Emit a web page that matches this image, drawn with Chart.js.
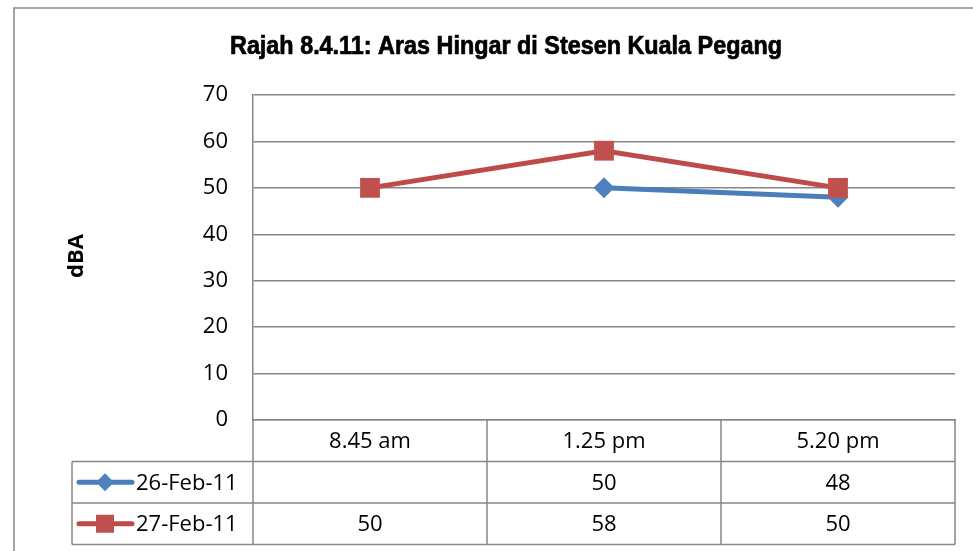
<!DOCTYPE html>
<html>
<head>
<meta charset="utf-8">
<script src="https://cdn.jsdelivr.net/npm/chart.js@4"></script>
<style>
html,body{margin:0;padding:0;background:#fff;}
#wrap{position:relative;width:973px;height:551px;}
</style>
</head>
<body>
<div id="wrap"><canvas id="c" width="973" height="551"></canvas></div>
<script>
const chartTitle = "Rajah 8.4.11: Aras Hingar di Stesen Kuala Pegang";
const yAxisTitle = "dBA";
const categories = ["8.45 am", "1.25 pm", "5.20 pm"];
const seriesNames = ["26-Feb-11", "27-Feb-11"];
const series26Feb = [null, 50, 48];
const series27Feb = [50, 58, 50];
const yTicks = [0, 10, 20, 30, 40, 50, 60, 70];

const FONT = "'Open Sans', Lato, sans-serif";
const FSIZE = 22;
const GRID = "#868686";
const BLUE = "#4A7EBB";
const BLUE_M = "#4F81BD";
const RED = "#BE4B48";
const RED_M = "#C0504D";

const seriesData = [series26Feb, series27Feb];
const styles = [
  {line: BLUE, marker: BLUE_M, shape: 'rectRot', r: 10.5, order: 1},
  {line: RED, marker: RED_M, shape: 'rect', r: 14, order: 0}
];

const tablePlugin = {
  id: 'excelTable',
  beforeDraw(chart) {
    const ctx = chart.ctx;
    ctx.save();
    ctx.fillStyle = '#fff';
    ctx.fillRect(0, 0, chart.width, chart.height);
    ctx.strokeStyle = GRID;
    ctx.lineWidth = 1.5;
    ctx.strokeRect(14, 8, 1000, 600);
    ctx.restore();
  },
  afterDraw(chart) {
    const ctx = chart.ctx;
    const x = chart.scales.x;
    const area = chart.chartArea;
    const left = area.left, right = area.right;
    const rowH = 41.5;
    const top0 = area.bottom;
    const r1 = top0 + rowH, r2 = r1 + rowH, r3 = r2 + rowH;
    const tableLeft = 72;
    ctx.save();
    ctx.strokeStyle = GRID;
    ctx.lineWidth = 1.5;
    ctx.beginPath();
    const n = categories.length;
    const step = (right - left) / n;
    for (let i = 0; i <= n; i++) {
      const xx = left + step * i;
      ctx.moveTo(xx, top0); ctx.lineTo(xx, r3);
    }
    ctx.moveTo(tableLeft, r1); ctx.lineTo(right, r1);
    ctx.moveTo(tableLeft, r2); ctx.lineTo(right, r2);
    ctx.moveTo(tableLeft, r3); ctx.lineTo(right, r3);
    ctx.moveTo(tableLeft, r1); ctx.lineTo(tableLeft, r3);
    ctx.moveTo(right, top0); ctx.lineTo(right, r3);
    ctx.stroke();

    ctx.fillStyle = '#000';
    ctx.font = FSIZE + "px " + FONT;
    ctx.textAlign = 'center';
    ctx.textBaseline = 'middle';
    categories.forEach((c, i) => {
      const cx = x.getPixelForValue(i);
      ctx.fillText(c, cx, (top0 + r1) / 2 + 1);
      seriesData.forEach((s, k) => {
        const v = s[i];
        const rowTop = k === 0 ? r1 : r2;
        if (v !== null && v !== undefined) ctx.fillText(String(v), cx, rowTop + rowH / 2 + 1);
      });
    });
    seriesNames.forEach((name, k) => {
      const rowTop = k === 0 ? r1 : r2;
      const cy = rowTop + rowH / 2;
      const st = styles[k];
      ctx.strokeStyle = st.line;
      ctx.lineWidth = 5;
      ctx.lineCap = 'round';
      ctx.beginPath();
      ctx.moveTo(79, cy); ctx.lineTo(132, cy);
      ctx.stroke();
      ctx.fillStyle = st.marker;
      if (st.shape === 'rect') {
        ctx.fillRect(105 - 9, cy - 9, 18, 18);
      } else {
        ctx.beginPath();
        ctx.moveTo(105, cy - 9); ctx.lineTo(114, cy); ctx.lineTo(105, cy + 9); ctx.lineTo(96, cy);
        ctx.closePath(); ctx.fill();
      }
      ctx.fillStyle = '#000';
      ctx.textAlign = 'left';
      ctx.fillText(name, 136, cy + 1);
    });

    // title (condensed by horizontal scaling)
    ctx.save();
    ctx.textAlign = 'center';
    ctx.font = "bold 25px 'Liberation Sans', 'DejaVu Sans', sans-serif";
    const w = ctx.measureText(chartTitle).width;
    const sx = 552 / w;
    ctx.translate(506, 47);
    ctx.scale(sx, 1);
    ctx.fillText(chartTitle, 0, 0);
    ctx.strokeStyle = '#000';
    ctx.lineWidth = 0.7;
    ctx.strokeText(chartTitle, 0, 0);
    ctx.restore();
    // y axis title
    ctx.save();
    ctx.translate(77, 256);
    ctx.rotate(-Math.PI / 2);
    ctx.textAlign = 'center';
    ctx.font = "bold 22px " + FONT;
    ctx.fillText(yAxisTitle, 0, 0);
    ctx.restore();
    ctx.restore();
  }
};

new Chart(document.getElementById('c'), {
  type: 'line',
  data: {
    labels: categories,
    datasets: seriesData.map((d, k) => ({
      label: seriesNames[k],
      data: d,
      borderColor: styles[k].line,
      backgroundColor: styles[k].marker,
      pointBackgroundColor: styles[k].marker,
      pointBorderColor: styles[k].marker,
      pointStyle: styles[k].shape,
      pointRadius: styles[k].r,
      pointBorderWidth: 0,
      borderWidth: 5,
      tension: 0,
      spanGaps: false,
      order: styles[k].order
    }))
  },
  options: {
    responsive: false,
    animation: false,
    events: [],
    layout: {padding: {left: 0, top: 95, right: 18, bottom: 0}},
    plugins: {legend: {display: false}, title: {display: false}, tooltip: {enabled: false}},
    scales: {
      x: {
        offset: true,
        ticks: {display: false},
        grid: {display: false, drawTicks: false},
        border: {display: true, color: GRID, width: 1.5},
        afterFit(scale) { scale.height = 131; }
      },
      y: {
        min: 0, max: 70,
        afterBuildTicks(scale) { scale.ticks = yTicks.map(v => ({value: v})); },
        ticks: {color: '#000', font: {size: FSIZE, family: FONT}, padding: 25},
        grid: {color: GRID, lineWidth: 1.5, drawTicks: false},
        border: {display: true, color: GRID, width: 1.5},
        afterFit(scale) { scale.width = 253; }
      }
    }
  },
  plugins: [tablePlugin]
});
</script>
</body>
</html>
